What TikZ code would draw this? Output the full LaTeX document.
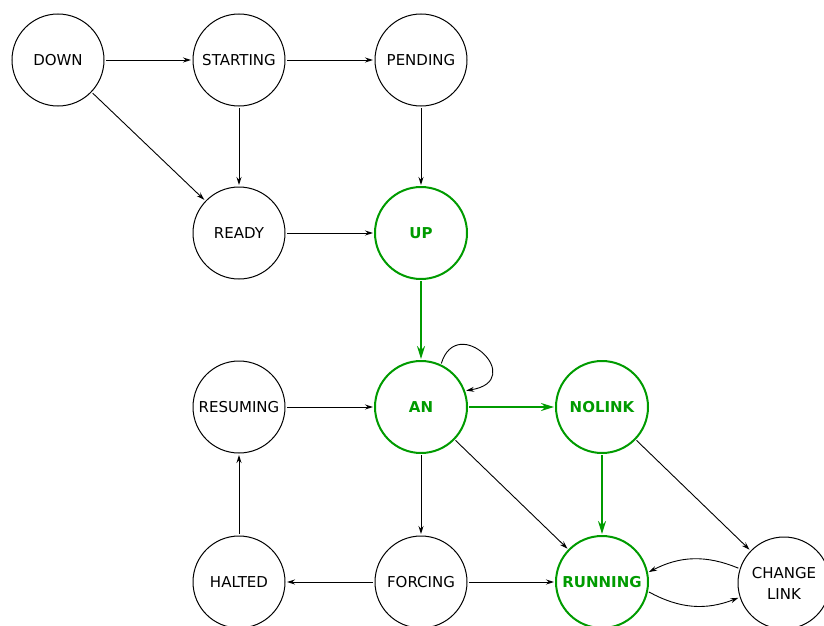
\documentclass[tikz,border=0pt]{standalone}
\usepackage{fontspec}
\setmainfont{DejaVu Sans}
\usetikzlibrary{arrows.meta}
\definecolor{grn}{RGB}{0,155,0}
\begin{document}
\begin{tikzpicture}[x=1pt,y=-1pt,
  st/.style={circle,draw,line width=1pt,minimum size=92pt,inner sep=0pt,outer sep=2pt,font=\fontsize{15}{21}\selectfont,align=center},
  gst/.style={st,draw=grn,line width=2pt,text=grn,font=\fontsize{15}{21}\selectfont\bfseries},
  e/.style={-{Stealth[length=8pt,width=5pt]},line width=0.9pt},
  ge/.style={-{Stealth[length=13pt,width=8pt]},line width=2pt,draw=grn}]
\useasboundingbox (0,0) rectangle (824,626);
\node[st] (down) at (58,60) {DOWN};
\node[st] (starting) at (239,60) {STARTING};
\node[st] (pending) at (421,60) {PENDING};
\node[st] (ready) at (239,233) {READY};
\node[gst] (up) at (421,233) {UP};
\node[st] (resuming) at (239,407) {RESUMING};
\node[gst] (an) at (421,407) {AN};
\node[gst] (nolink) at (602,407) {NOLINK};
\node[st] (halted) at (239,582) {HALTED};
\node[st] (forcing) at (421,582) {FORCING};
\node[gst] (running) at (602,582) {RUNNING};
\node[st] (change) at (784,583) {CHANGE\\LINK};
\draw[e] (down) -- (starting);
\draw[e] (starting) -- (pending);
\draw[e] (down) -- (ready);
\draw[e] (starting) -- (ready);
\draw[e] (pending) -- (up);
\draw[e] (ready) -- (up);
\draw[ge] (up) -- (an);
\draw[ge] (an) -- (nolink);
\draw[e] (an.65) .. controls +(16,-52) and +(62,-10) .. (an.20);
\draw[e] (resuming) -- (an);
\draw[e] (halted) -- (resuming);
\draw[e] (an) -- (forcing);
\draw[e] (an) -- (running);
\draw[e] (forcing) -- (halted);
\draw[e] (forcing) -- (running);
\draw[ge] (nolink) -- (running);
\draw[e] (nolink) -- (change);
\draw[e] (change.162) to[bend right=25] (running.12);
\draw[e] (running.-12) to[bend right=25] (change.-162);
\end{tikzpicture}
\end{document}
